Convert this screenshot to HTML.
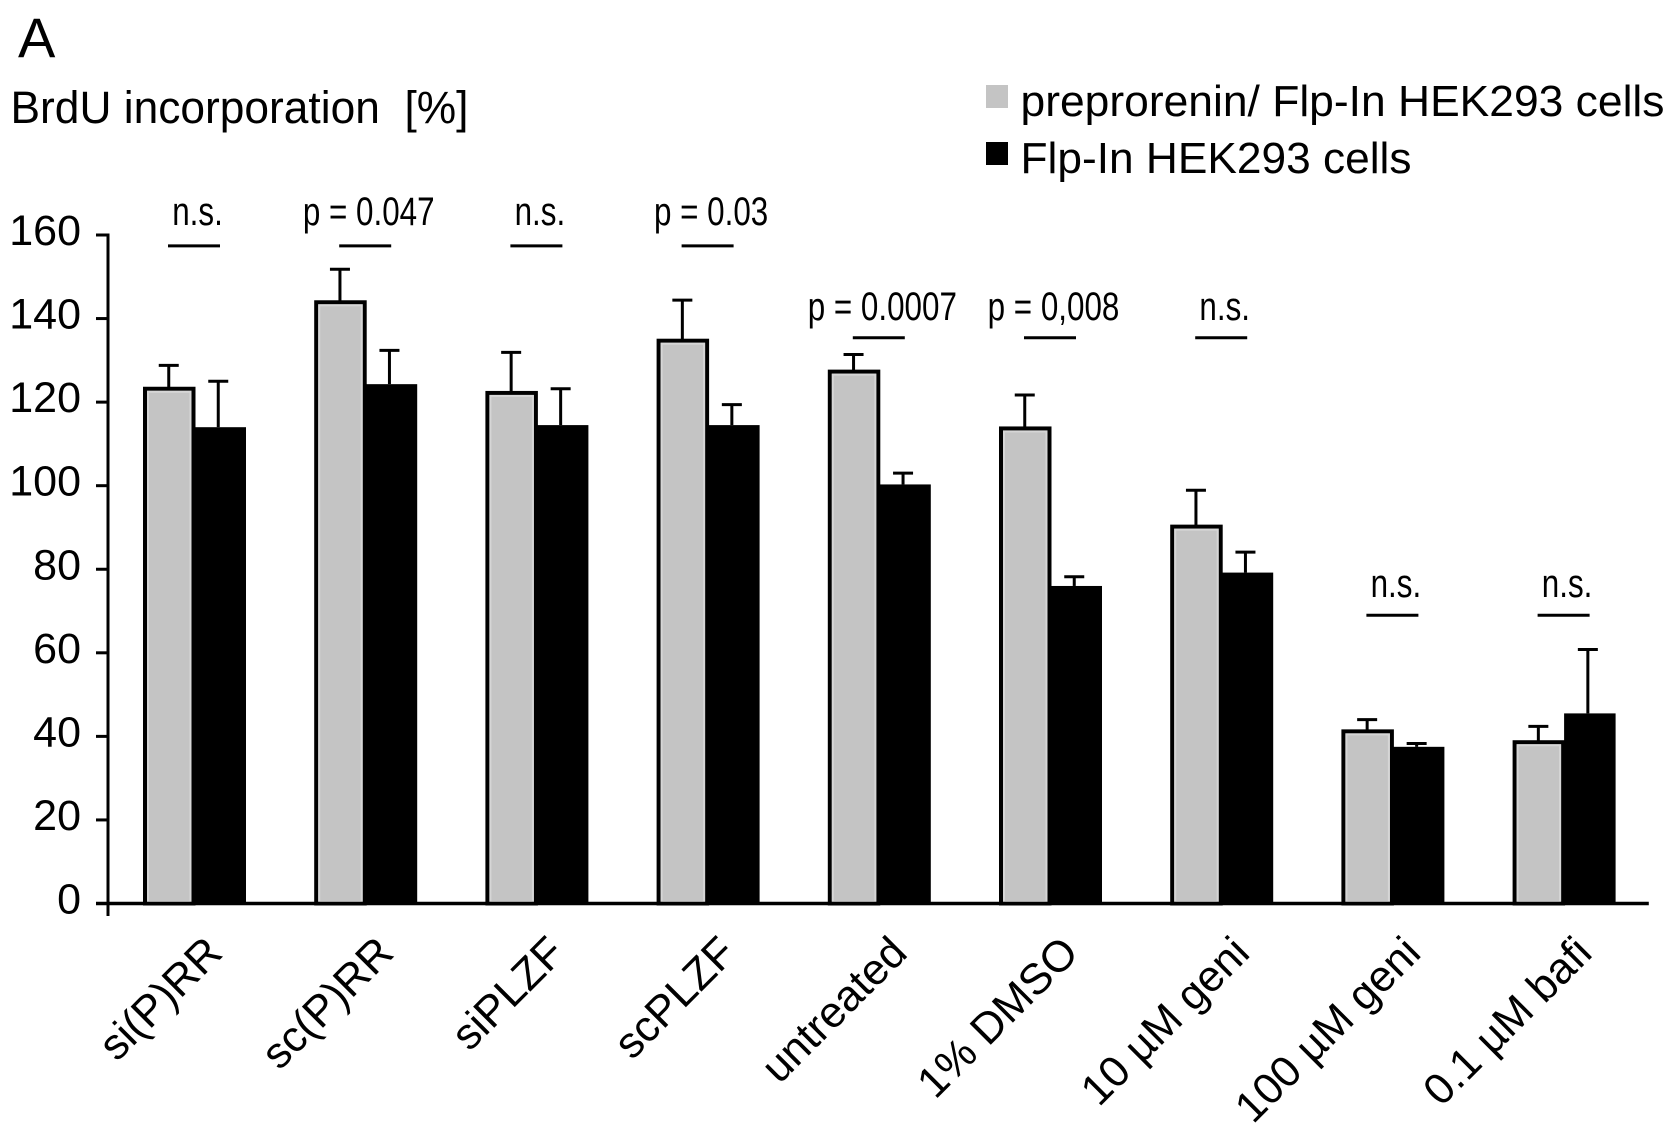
<!DOCTYPE html>
<html lang="en">
<head>
<meta charset="utf-8">
<title>BrdU incorporation chart</title>
<style>
html,body{margin:0;padding:0;background:#fff;width:1677px;height:1134px;overflow:hidden}
svg{display:block}
text{font-family:"Liberation Sans",Arial,sans-serif;fill:#000}
</style>
</head>
<body>
<svg id="chart" xmlns="http://www.w3.org/2000/svg" width="1677" height="1134" viewBox="0 0 1677 1134">
  <rect width="1677" height="1134" fill="#fff"/>
  <text x="18" y="57" font-size="56">A</text>
  <text x="10.5" y="123" font-size="45" xml:space="preserve" textLength="458" lengthAdjust="spacingAndGlyphs">BrdU incorporation  [%]</text>
  <rect x="986" y="85" width="22" height="23" fill="#c4c4c4"/>
  <text x="1020.5" y="116" font-size="44" textLength="644" lengthAdjust="spacingAndGlyphs">preprorenin/ Flp-In HEK293 cells</text>
  <rect x="986" y="142" width="22" height="23" fill="#000"/>
  <text x="1020.5" y="173" font-size="44" textLength="391" lengthAdjust="spacingAndGlyphs">Flp-In HEK293 cells</text>
  <g id="bars"></g>
  <g id="axes"></g>
  <g id="annotations"></g>
</svg>
<script>
const categories = ["si(P)RR","sc(P)RR","siPLZF","scPLZF","untreated","1% DMSO","10 µM geni","100 µM geni","0.1 µM bafi"];
const preproreninValues = [123.2,143.9,122.2,134.7,127.3,113.7,90.2,41.2,38.6];
const preproreninErrorTops = [128.8,151.8,131.9,144.4,131.4,121.7,98.9,44,42.4];
const flpInValues = [114,124.3,114.5,114.5,100.3,76,79.2,37.5,45.5];
const flpInErrorTops = [125,132.4,123.2,119.4,103,78.2,84.1,38.3,60.8];
const significanceLabels = ["n.s.","p = 0.047","n.s.","p = 0.03","p = 0.0007","p = 0,008","n.s.","n.s.","n.s."];
const significanceLevels = [157.4,157.4,157.4,157.4,135.4,135.4,135.4,69,69];
const yTicks = [0,20,40,60,80,100,120,140,160];

const NS = "http://www.w3.org/2000/svg";
const axisX = 108, bandStep = 171.2, barInset = 35, barWidth = 51.5;
const y0 = 903.5, yPerUnit = (903.5 - 235) / 160;
function yScale(v){ return y0 - v * yPerUnit; }
function bandLeft(i){ return axisX + i * bandStep + barInset; }
function groupCenter(i){ return bandLeft(i) + barWidth; }
function make(tag, parent){
  const el = document.createElementNS(NS, tag);
  parent.appendChild(el);
  return el;
}
function setAttrs(el, o){ for (const k in o) el.setAttribute(k, o[k]); }

const barsG = document.getElementById("bars");
const axesG = document.getElementById("axes");
const annG = document.getElementById("annotations");

function errorBar(cx, fromV, topV, slug){
  const stem = make("line", barsG);
  
  
  setAttrs(stem, {x1:cx, x2:cx, y1:yScale(fromV), y2:yScale(topV), stroke:"#000", "stroke-width":3});
  const cap = make("line", barsG);
  
  
  setAttrs(cap, {x1:cx-10, x2:cx+10, y1:yScale(topV), y2:yScale(topV), stroke:"#000", "stroke-width":3});
}

categories.forEach((c, i) => {
  const left = bandLeft(i);
  errorBar(left + barWidth/2, preproreninValues[i], preproreninErrorTops[i], 'preprorenin-' + i);
  errorBar(left + barWidth*1.5 - 2, flpInValues[i], flpInErrorTops[i], 'flp-in-' + i);

  const black = make("rect", barsG);
  
  
  setAttrs(black, {x:left+barWidth, y:yScale(flpInValues[i]), width:barWidth, height:yScale(0)-yScale(flpInValues[i]), fill:"#000"});

  const outer = make("rect", barsG);
  
  
  setAttrs(outer, {x:left+2, y:yScale(preproreninValues[i]), width:barWidth-3, height:yScale(0)-yScale(preproreninValues[i]), fill:"#c4c4c4", stroke:"#000", "stroke-width":4});

  const edge = make("rect", barsG);
  
  
  setAttrs(edge, {x:left+5, y:yScale(preproreninValues[i])+3, width:barWidth-9, height:yScale(0)-yScale(preproreninValues[i])-4.5, fill:"none", stroke:"#d6d6d6", "stroke-width":2});

  const label = make("text", axesG);
  
  
  setAttrs(label, {"text-anchor":"end", "font-size":43.5, transform:`translate(${groupCenter(i)+30},955) rotate(-45)`});
  label.textContent = c;

  const lvl = yScale(significanceLevels[i]);
  const rule = make("line", annG);
  
  
  setAttrs(rule, {x1:groupCenter(i)-26.5, x2:groupCenter(i)+25.5, y1:lvl, y2:lvl, stroke:"#000", "stroke-width":3});

  const sig = make("text", annG);
  
  
  setAttrs(sig, {"text-anchor":"middle", "font-size":40, transform:`translate(${groupCenter(i)+3},${lvl-(i < 4 ? 21 : 18)}) scale(0.785,1)`});
  sig.textContent = significanceLabels[i];
});

yTicks.forEach((t) => {
  const y = yScale(t);
  const tick = make("line", axesG);
  
  
  setAttrs(tick, {x1:96, x2:axisX, y1:y, y2:y, stroke:"#000", "stroke-width":3});
  const lab = make("text", axesG);
  
  
  setAttrs(lab, {x:81, y:y+10, "text-anchor":"end", "font-size":43});
  lab.textContent = t;
});

const yAxis = make("line", axesG);


setAttrs(yAxis, {x1:axisX, x2:axisX, y1:yScale(160)-1.5, y2:916, stroke:"#000", "stroke-width":3});

const xAxis = make("line", axesG);


setAttrs(xAxis, {x1:96, x2:axisX + categories.length*bandStep, y1:y0, y2:y0, stroke:"#000", "stroke-width":3.5});
</script>
</body>
</html>
